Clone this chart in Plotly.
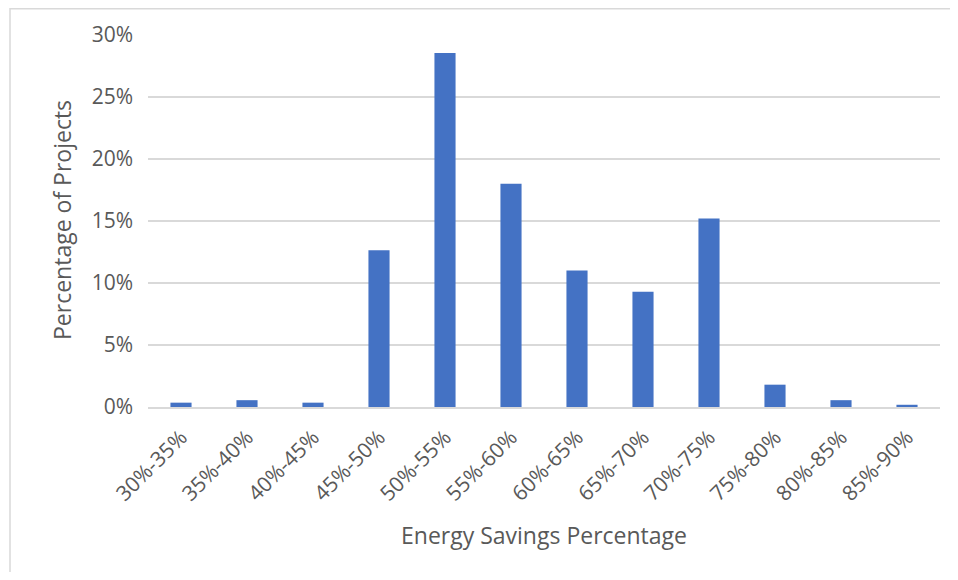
import plotly.graph_objects as go

categories = ["30%-35%", "35%-40%", "40%-45%", "45%-50%", "50%-55%", "55%-60%",
              "60%-65%", "65%-70%", "70%-75%", "75%-80%", "80%-85%", "85%-90%"]
values = [0.0035, 0.0055, 0.0035, 0.1265, 0.2855, 0.180, 0.110, 0.093, 0.152, 0.018, 0.0055, 0.0018]
y_ticks = [0, 0.05, 0.10, 0.15, 0.20, 0.25, 0.30]
y_tick_labels = ["0%", "5%", "10%", "15%", "20%", "25%", "30%"]

# page body has an 8px margin: figure placed at (8, 8)
OFF = 8
W, H = 942, 564
L, T = 148 - OFF, 35 - OFF
pw, ph = 792, 372
R, B = W - L - pw, H - T - ph

def px(x):
    return (x - OFF - L) / pw

def py(y):
    return (T + ph - (y - OFF)) / ph

font = "Open Sans, DejaVu Sans, sans-serif"
grey = "#595959"

fig = go.Figure(go.Bar(
    x=categories, y=values, marker=dict(color="#4472C4", line=dict(width=0)),
    width=0.32,
))

fig.update_layout(
    width=W, height=H,
    margin=dict(l=L, r=R, t=T, b=B, autoexpand=False),
    paper_bgcolor="white", plot_bgcolor="white",
    showlegend=False,
    font=dict(family=font, color=grey, size=20),
    xaxis=dict(
        tickangle=-45, tickfont=dict(size=21, color=grey),
        showgrid=False, showline=True, linecolor="#D9D9D9", linewidth=1.5,
        ticks="", automargin=False, ticklabelstandoff=8,
    ),
    yaxis=dict(
        range=[0, 0.30], tickvals=y_ticks, ticktext=y_tick_labels,
        tickfont=dict(size=21, color=grey),
        showgrid=True, gridcolor="#D9D9D9", gridwidth=1.5,
        zeroline=False, showline=False, ticks="", automargin=False,
        ticklabelstandoff=14,
    ),
    annotations=[
        dict(text="Percentage of Projects", xref="paper", yref="paper",
             x=px(62), y=py(220), xanchor="center", yanchor="middle",
             textangle=-90, showarrow=False, font=dict(size=23, color=grey)),
        dict(text="Energy Savings Percentage", xref="paper", yref="paper",
             x=px(544), y=py(535), xanchor="center", yanchor="middle",
             showarrow=False, font=dict(size=23, color=grey)),
    ],
    shapes=[dict(type="rect", xref="paper", yref="paper",
                 x0=px(10), x1=px(975), y0=py(595), y1=py(8.8),
                 line=dict(color="#D9D9D9", width=1.5), fillcolor="rgba(0,0,0,0)", layer="above")],
)

fig.write_html("out.html")
